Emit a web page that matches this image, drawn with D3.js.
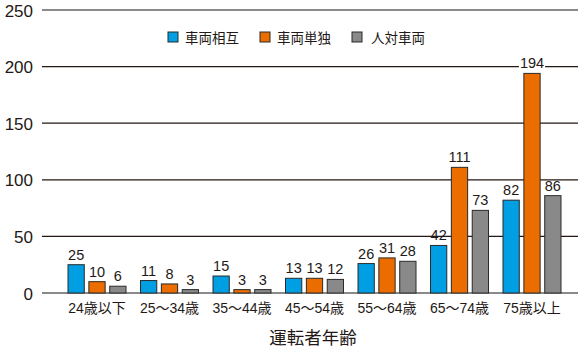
<!DOCTYPE html>
<html>
<head>
<meta charset="utf-8">
<script src="https://cdn.jsdelivr.net/npm/d3@7/dist/d3.min.js"></script>
<style>
  body { margin: 0; background: #fff; }
  text { font-family: "Liberation Sans", Arial, "Noto Sans CJK JP", sans-serif; fill: #231815; }
</style>
</head>
<body>
<svg id="chart" width="581" height="349"></svg>
<script>
// Traffic accident counts by driver age group
const categories = ["24歳以下", "25～34歳", "35～44歳", "45～54歳", "55～64歳", "65～74歳", "75歳以上"];
const seriesNames = ["車両相互", "車両単独", "人対車両"];
const vehicleToVehicle = [25, 11, 15, 13, 26, 42, 82];
const vehicleAlone = [10, 8, 3, 13, 31, 111, 194];
const pedestrianVehicle = [6, 3, 3, 12, 28, 73, 86];
const yTicks = [0, 50, 100, 150, 200, 250];
const colors = ["#009fe3", "#eb6d00", "#898989"];
const axisTitle = "運転者年齢";

const series = [vehicleToVehicle, vehicleAlone, pedestrianVehicle];
const svg = d3.select("#chart");

const plotLeft = 42, plotRight = 578;
const y = d3.scaleLinear().domain([0, 250]).range([293, 10]);
const x = d3.scaleBand().domain(categories).range([60.75, 568.25]).paddingInner(0.2).paddingOuter(0.1);
const xs = d3.scaleBand().domain(seriesNames).range([0, x.bandwidth()]).paddingInner(0.22);

// Gridlines
svg.append("g").selectAll("line").data(yTicks).join("line")
  .attr("x1", plotLeft).attr("x2", plotRight)
  .attr("y1", d => y(d)).attr("y2", d => y(d))
  .attr("stroke", d => (d === 0 || d === 250) ? "#8a8a8a" : "#231815")
  .attr("stroke-width", d => (d === 0 || d === 250) ? 2 : 1.2);

// Y tick labels
const yAxis = d3.axisLeft(y).tickValues(yTicks).tickSize(0).tickPadding(0);
const yg = svg.append("g").attr("transform", "translate(33,0)").call(yAxis);
yg.select(".domain").remove();
yg.selectAll("text").attr("font-size", 17).attr("dy", "0.36em")
  .style("font-family", "'Liberation Sans', Arial, sans-serif").attr("fill", "#231815");

// Bars
const groups = svg.append("g").selectAll("g").data(categories).join("g")
  .attr("transform", d => `translate(${x(d)},0)`);

groups.each(function(cat, ci) {
  const g = d3.select(this);
  seriesNames.forEach((s, si) => {
    const v = series[si][ci];
    g.append("rect")
      .attr("x", xs(s)).attr("width", xs.bandwidth())
      .attr("y", y(v)).attr("height", y(0) - y(v))
      .attr("fill", colors[si]).attr("stroke", "#2a2a2a").attr("stroke-width", 1);
    const lbl = g.append("text")
      .attr("x", xs(s) + xs.bandwidth() / 2).attr("y", y(v) - 5)
      .attr("text-anchor", "middle").attr("font-size", 14.5)
      .text(v);
    if (v > 185) {
      const bb = lbl.node().getBBox();
      g.insert("rect", "text:last-of-type")
        .attr("x", bb.x - 1).attr("y", bb.y).attr("width", bb.width + 2).attr("height", bb.height)
        .attr("fill", "#fff");
      lbl.raise();
    }
  });
});

// Category labels
svg.append("g").selectAll("text").data(categories).join("text")
  .attr("x", d => x(d) + x.bandwidth() / 2).attr("y", 313)
  .attr("text-anchor", "middle").attr("font-size", 14)
  .text(d => d);

// Axis title
svg.append("text").attr("x", 313).attr("y", 344).attr("text-anchor", "middle")
  .attr("font-size", 17.5).text(axisTitle);

// Legend
const legendX = [168, 260, 352];
const legendTextX = [185, 277, 371];
const legend = svg.append("g");
seriesNames.forEach((s, i) => {
  legend.append("rect").attr("x", legendX[i]).attr("y", 32).attr("width", 10).attr("height", 10)
    .attr("fill", colors[i]).attr("stroke", "#2a2a2a").attr("stroke-width", 1);
  legend.append("text").attr("x", legendTextX[i]).attr("y", 42.5)
    .attr("font-size", 13.5).text(s);
});
</script>
</body>
</html>
